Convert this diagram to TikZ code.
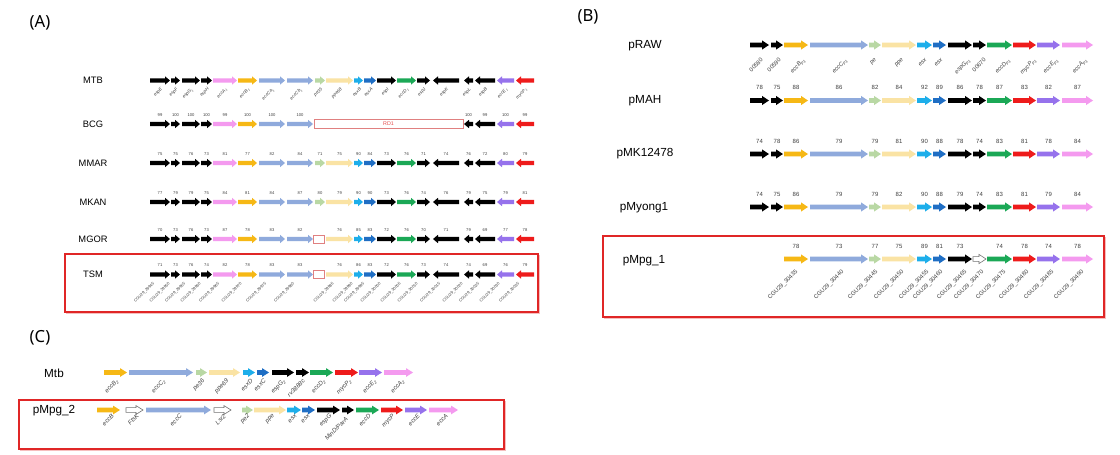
\documentclass[tikz,border=0pt]{standalone}
\usepackage{fontspec}
\setmainfont{Liberation Sans}
\newfontfamily\pfont{Noto Sans}
\definecolor{cPk}{HTML}{F49AEF}
\definecolor{cOr}{HTML}{F6B815}
\definecolor{cLb}{HTML}{8FAADC}
\definecolor{cLg}{HTML}{B9D8A4}
\definecolor{cYe}{HTML}{FAE3A4}
\definecolor{cCy}{HTML}{1DAEEA}
\definecolor{cDb}{HTML}{1F6EC4}
\definecolor{cGr}{HTML}{1BA856}
\definecolor{cPu}{HTML}{9672EC}
\definecolor{cRd}{HTML}{EE1B1B}
\definecolor{cBox}{HTML}{E02626}
\definecolor{cRD}{HTML}{E08080}
\definecolor{cTxt}{HTML}{404040}

\newcommand\drawg[6]{%
  \if R#3%
    \path[fill=#4,draw=#5,line width=0.45pt] (#1,{#6-\bh}) -- ({#2-\hl},{#6-\bh}) -- ({#2-\hl},{#6-\hh}) -- (#2,#6) -- ({#2-\hl},{#6+\hh}) -- ({#2-\hl},{#6+\bh}) -- (#1,{#6+\bh}) -- cycle;%
  \else
    \path[fill=#4,draw=#5,line width=0.45pt] (#2,{#6-\bh}) -- ({#1+\hl},{#6-\bh}) -- ({#1+\hl},{#6-\hh}) -- (#1,#6) -- ({#1+\hl},{#6+\hh}) -- ({#1+\hl},{#6+\bh}) -- (#2,{#6+\bh}) -- cycle;%
  \fi}

\newcommand\generow[4]{%
  \foreach \a/\b/\d/\f/\dr [count=\i] in #1 {%
    \pgfmathtruncatemacro\keep{#3}%
    \ifnum\keep>0
      \drawg{\a}{\b}{\d}{\f}{\dr}{#2}%
      \pgfmathtruncatemacro\nn{#4}%
      \ifnum\nn>0 \node[num] at ({(\a+\b)/2},{#2-\numoff}) {\nn};\fi
    \fi}}

\def\genesA{150/170/R/black/none, 171/180/R/black/none, 182/200/R/black/none, 201/212/R/black/none, 213/237/R/cPk/none, 238/257/R/cOr/none, 259/285/R/cLb/none, 287/313/R/cLb/none, 315/325/R/cLg/none, 326/353/R/cYe/none, 354/363/R/cCy/none, 364/376/R/cDb/none, 377/396/R/black/none, 397/416/R/cGr/none, 417/430/R/black/none, 433/459/L/black/none, 464/473/L/black/none, 475/495/L/black/none, 497/514/L/cPu/none, 516/534/L/cRd/none}
\def\cxA{{160,175.5,191,206.5,225,247.5,272,300,320,339.5,358.5,370,386.5,406.5,423.5,446,468.5,485,505.5,525}}
\def\nBCG{{99,100,100,100,99,100,100,100,0,0,0,0,0,0,0,0,100,99,100,99}}
\def\nMMAR{{75,75,76,73,81,77,82,84,71,75,90,84,73,76,71,74,76,72,80,79}}
\def\nMKAN{{77,79,79,75,84,81,84,87,80,79,90,90,73,76,74,76,79,75,79,81}}
\def\nMGOR{{70,73,76,73,87,78,83,82,0,76,85,83,72,76,70,71,79,69,77,78}}
\def\nTSM{{71,73,76,74,82,78,83,83,0,76,86,83,72,76,73,74,74,69,76,79}}

\def\genesB{750/769/R/black/none, 771/783/R/black/none, 784/808/R/cOr/none, 810/868/R/cLb/none, 869/881/R/cLg/none, 882/916/R/cYe/none, 917/932/R/cCy/none, 933/946/R/cDb/none, 948/972/R/black/none, 973/986/R/black/none, 987/1012/R/cGr/none, 1013/1036/R/cRd/none, 1037/1060/R/cPu/none, 1062/1093/R/cPk/none}
\def\nMAH{{78,75,88,86,82,84,92,89,86,78,87,83,82,87}}
\def\nMK{{74,78,86,79,79,81,90,88,78,74,83,81,78,84}}
\def\nMY{{74,75,86,79,79,82,90,88,79,74,83,81,79,84}}
\def\nMPG{{0,0,78,73,77,75,89,81,73,0,74,78,74,78}}

\def\genesCm{104/127/R/cOr/none, 129/193/R/cLb/none, 196/207/R/cLg/none, 209/240/R/cYe/none, 243/255/R/cCy/none, 257/269/R/cDb/none, 272/294/R/black/none, 296/309/R/black/none, 310/333/R/cGr/none, 335/358/R/cRd/none, 359/382/R/cPu/none, 384/413/R/cPk/none}
\def\genesCp{97/120/R/cOr/none, 126/143/R/white/black!55, 146/211/R/cLb/none, 214/231/R/white/black!55, 242/253/R/cLg/none, 254/286/R/cYe/none, 287/301/R/cCy/none, 302/315/R/cDb/none, 317/340/R/black/none, 342/354/R/black/none, 356/379/R/cGr/none, 381/403/R/cRd/none, 405/427/R/cPu/none, 429/458/R/cPk/none}

\tikzset{
  rowA/.style={font=\fontsize{7}{8}\selectfont, inner sep=0},
  rowB/.style={font=\fontsize{8.8}{10}\selectfont, inner sep=0},
  panel/.style={font=\pfont\fontsize{12.5}{14}\selectfont, inner sep=0},
  labA/.style={font=\fontsize{3.4}{4}\selectfont\itshape, text=cTxt, rotate=45, anchor=east, inner sep=0},
  labT/.style={font=\fontsize{3}{3.5}\selectfont, text=cTxt, rotate=45, anchor=east, inner sep=0},
  labB/.style={font=\fontsize{4.4}{5}\selectfont, text=cTxt, rotate=45, anchor=east, inner sep=0},
  labC/.style={font=\fontsize{4.6}{5.5}\selectfont\itshape, text=cTxt, rotate=45, anchor=east, inner sep=0},
  redbox/.style={draw=cBox, line width=0.9pt},
  shadowline/.style={draw=cBox!30, line width=1.2pt},
}

\begin{document}
\begin{tikzpicture}[x=0.75pt,y=-0.75pt]
\useasboundingbox[fill=white] (0,0) rectangle (1120,454);

% ---------- panel titles ----------
\node[panel] (tA) at (40,23) {(A)};
\node[panel] (tB) at (588,17) {(B)};
\node[panel] (tC) at (40,338) {(C)};

% ---------- Panel A ----------
\begin{scope}[num/.style={font=\fontsize{3.1}{3.5}\selectfont, text=cTxt, inner sep=0}]
\def\bh{2.2}\def\hh{4.2}\def\hl{5}\def\numoff{9}
\node[rowA] (MTB) at (93,80.5) {MTB};
\node[rowA] (BCG) at (93,124) {BCG};
\node[rowA] (MMAR) at (93,163) {MMAR};
\node[rowA] (MKAN) at (93,202) {MKAN};
\node[rowA] (MGOR) at (93,239) {MGOR};
\node[rowA] (TSM) at (93,274) {TSM};

\generow{\genesA}{80.5}{1}{0}
\generow{\genesA}{124}{(\i<9)||(\i>16)}{\nBCG[\i-1]}
\generow{\genesA}{163}{1}{\nMMAR[\i-1]}
\generow{\genesA}{202}{1}{\nMKAN[\i-1]}
\generow{\genesA}{239}{\i!=9}{\nMGOR[\i-1]}
\generow{\genesA}{274.5}{\i!=9}{\nTSM[\i-1]}

% RD1 region and missing genes
\draw[cRD, fill=white, line width=0.5pt] (314,119.5) rectangle (463,128.5);
\node[font=\fontsize{4}{4}\selectfont, text=cBox!80, inner sep=0] (RD1) at (388.5,124) {RD1};
\draw[cRD, fill=white, line width=0.6pt] (313,235) rectangle (324,243.5);
\draw[cRD, fill=white, line width=0.6pt] (313,270.5) rectangle (324,278.8);

% MTB gene names
\foreach \t [count=\i] in {espE,espF,espG\textsubscript{1},espH,eccA\textsubscript{1},eccB\textsubscript{1},eccCa\textsubscript{1},eccCb\textsubscript{1},pe35,ppe68,esxB,esxA,espI,eccD\textsubscript{1},espJ,espK,espL,espB,eccE\textsubscript{1},mycP\textsubscript{1}}{
  \pgfmathsetmacro\xx{\cxA[\i-1]+2}
  \node[labA] at (\xx,88.5) {\t};
}
% TSM locus tags
\foreach \k in {1,...,19}{
  \pgfmathtruncatemacro\g{\k<9 ? \k : \k+1}
  \pgfmathsetmacro\xx{\cxA[\g-1]-6}
  \node[labT] at (\xx,283) {CGU29\_\the\numexpr29940+5*\k\relax};
}
\path[shadowline] (66,313.5) -- (539.5,313.5) -- (539.5,255);
\draw[redbox] (65,254) rectangle (538,312);
\end{scope}

% ---------- Panel B ----------
\begin{scope}[num/.style={font=\fontsize{4.5}{5}\selectfont, text=cTxt, inner sep=0}]
\def\bh{2.4}\def\hh{4.6}\def\hl{7}\def\numoff{13}
\node[rowB] (pRAW) at (645,46) {pRAW};
\node[rowB] (pMAH) at (645,100.5) {pMAH};
\node[rowB] (pMK) at (645,154) {pMK12478};
\node[rowB] (pMy) at (644,207.5) {pMyong1};
\node[rowB] (pMpg1) at (644,260.5) {pMpg\_1};

\generow{\genesB}{45}{1}{0}
\generow{\genesB}{100.5}{1}{\nMAH[\i-1]}
\generow{\genesB}{154}{1}{\nMK[\i-1]}
\generow{\genesB}{207}{1}{\nMY[\i-1]}
\generow{\genesB}{259}{(\i>2)&&(\i!=10)}{\nMPG[\i-1]}
\drawg{973}{986}{R}{white}{black!55}{259}

\foreach \xx/\t in {762/00580, 780/00590, 805/\textit{eccB}\textsubscript{\textit{P1}}, 847/\textit{eccC}\textsubscript{\textit{P1}}, 876/\textit{pe}, 903/\textit{ppe}, 926/\textit{esx}, 942/\textit{esx}, 970/\textit{espG}\textsubscript{\textit{P1}}, 985/00670, 1010/\textit{eccD}\textsubscript{\textit{P1}}, 1036/\textit{mycP}\textsubscript{\textit{P1}}, 1058/\textit{eccE}\textsubscript{\textit{P1}}, 1087/\textit{eccA}\textsubscript{\textit{P1}}}{
  \node[labB] at (\xx,59) {\t};
}
\foreach \xx [count=\j from 0] in {797,843,877,903,928,942,966,983,1005,1028,1053,1083}{
  \node[labB] at (\xx,271) {CGU29\_\the\numexpr30435+5*\j\relax};
}
\path[shadowline] (604,318.5) -- (1105.5,318.5) -- (1105.5,237);
\draw[redbox] (603,236) rectangle (1104,317);
\end{scope}

% ---------- Panel C ----------
\begin{scope}[num/.style={font=\fontsize{4.5}{5}\selectfont, inner sep=0}]
\def\bh{2.4}\def\hh{4.4}\def\hl{7}\def\numoff{13}
\node[rowB] (Mtb) at (54,373) {Mtb};
\node[rowB] (pMpg2) at (54,411) {pMpg\_2};

\generow{\genesCm}{372.5}{1}{0}
\generow{\genesCp}{410}{1}{0}

\foreach \xx/\t in {118/eccB\textsubscript{2}, 165/eccC\textsubscript{2}, 204/pe36, 228/ppe69, 252/esxD, 265/esxC, 285/espG\textsubscript{2}, 304/rv3888c, 325/eccD\textsubscript{2}, 351/mycP\textsubscript{2}, 376/eccE\textsubscript{2}, 404/eccA\textsubscript{2}}{
  \node[labC] at (\xx,380) {\t};
}
\foreach \xx/\t in {113/eccB, 138/FtsK, 181/eccC, 225/Lsr2, 249/pe2, 274/ppe, 296/esx, 309/esx, 331/espG, 370/eccD, 394/mycP, 419/eccE, 447/eccA}{
  \node[labC] at (\xx,415) {\t};
}
\node[labC] (minD) at (347,418) {MinD/ParA};
\path[shadowline] (20,450.5) -- (505.5,450.5) -- (505.5,401);
\draw[redbox] (19,400) rectangle (504,449);
\end{scope}
\end{tikzpicture}
\end{document}
